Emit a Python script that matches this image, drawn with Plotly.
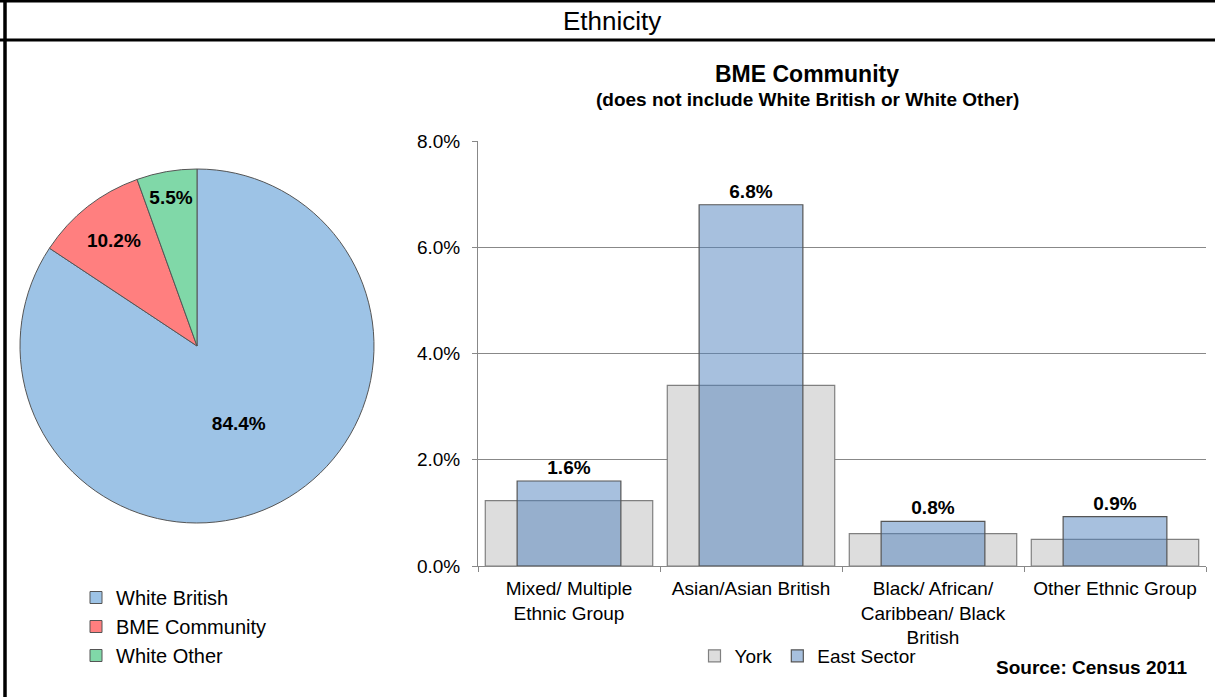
import plotly.graph_objects as go

pie_labels = ["White British", "BME Community", "White Other"]
pie_values = [84.4, 10.2, 5.5]
pie_colors = ["#9DC3E6", "#FF7F7F", "#80D8A8"]

categories = ["Mixed/ Multiple<br>Ethnic Group", "Asian/Asian British",
              "Black/ African/<br>Caribbean/ Black<br>British", "Other Ethnic Group"]
york = [1.23, 3.4, 0.61, 0.5]
east = [1.6, 6.8, 0.84, 0.93]
y_ticks = [0, 2, 4, 6, 8]
y_ticktext = [f"{v:.1f}%" for v in y_ticks]

W, H = 1215, 697
def px(x): return x / W
def py(y): return 1 - y / H

FAM = "Arial, Liberation Sans, sans-serif"
font = dict(family=FAM, size=19, color="black")

fig = go.Figure()

fig.add_trace(go.Pie(
    labels=pie_labels, values=pie_values, sort=False, direction="clockwise", rotation=0,
    marker=dict(colors=pie_colors, line=dict(color="#555555", width=1)),
    texttemplate="%{value:.1f}%", textposition="inside", insidetextorientation="horizontal",
    textfont=dict(family=FAM, size=19, color="black", weight="bold"),
    domain=dict(x=[px(20), px(374)], y=[py(523), py(169)]),
    legend="legend", hoverinfo="label+percent",
))

fig.add_trace(go.Bar(
    x=categories, y=york, name="York", width=0.92,
    marker=dict(color="#DDDDDD", line=dict(color="#808080", width=1.2)),
    xaxis="x", yaxis="y", legend="legend2",
))
fig.add_trace(go.Bar(
    x=categories, y=east, name="East Sector", width=0.57,
    marker=dict(color="rgba(79,129,189,0.5)", line=dict(color="#555555", width=1.2)),
    texttemplate="%{y:.1f}%", textposition="outside", cliponaxis=False,
    textfont=dict(family=FAM, size=19, color="black", weight="bold"),
    xaxis="x", yaxis="y", legend="legend2",
))

fig.update_layout(
    width=W, height=H, margin=dict(l=0, r=0, t=0, b=0, autoexpand=False), autosize=False,
    paper_bgcolor="white", plot_bgcolor="white",
    barmode="overlay", font=font,
    xaxis=dict(domain=[px(478), px(1206)], type="category", tickson="boundaries",
               ticks="outside", ticklen=5, tickcolor="#888888", ticklabelstandoff=5,
               showline=True, linecolor="#888888", linewidth=1,
               showgrid=False, tickfont=font, anchor="y"),
    yaxis=dict(domain=[py(566), py(141)], range=[0, 8], tickvals=y_ticks,
               ticktext=y_ticktext, ticks="outside", ticklen=5, ticklabelstandoff=8,
               tickcolor="#888888", showline=True, linecolor="#888888",
               showgrid=True, gridcolor="#888888", gridwidth=1,
               zeroline=False, tickfont=font, anchor="x"),
    legend=dict(x=px(76), y=py(578), xanchor="left", yanchor="top",
                orientation="v", font=dict(family=FAM, size=20, color="black"), itemwidth=30,
                bgcolor="rgba(0,0,0,0)"),
    legend2=dict(x=px(808), y=py(637), xanchor="center", yanchor="top",
                 orientation="h", font=font, itemwidth=30,
                 bgcolor="rgba(0,0,0,0)"),
    shapes=[
        dict(type="line", xref="paper", yref="paper", x0=0, x1=1, y0=py(1), y1=py(1),
             line=dict(color="black", width=3)),
        dict(type="line", xref="paper", yref="paper", x0=0, x1=1, y0=py(40), y1=py(40),
             line=dict(color="black", width=3)),
        dict(type="line", xref="paper", yref="paper", x0=px(5), x1=px(5), y0=0, y1=1,
             line=dict(color="black", width=3.5)),
    ],
    annotations=[
        dict(text="Ethnicity", x=px(612), y=py(21), xref="paper", yref="paper",
             xanchor="center", yanchor="middle", showarrow=False,
             font=dict(family=FAM, size=26, color="black")),
        dict(text="<b>BME Community</b>", x=px(807), y=py(74), xref="paper", yref="paper",
             xanchor="center", yanchor="middle", showarrow=False,
             font=dict(family=FAM, size=23, color="black")),
        dict(text="<b>(does not include White British or White Other)</b>", x=px(807), y=py(100),
             xref="paper", yref="paper", xanchor="center", yanchor="middle", showarrow=False,
             font=dict(family=FAM, size=19, color="black")),
        dict(text="<b>Source: Census 2011</b>", x=px(1092), y=py(667), xref="paper", yref="paper",
             xanchor="center", yanchor="middle", showarrow=False,
             font=dict(family=FAM, size=19, color="black")),
    ],
)

post = ("document.body.style.margin='0px';document.body.style.overflow='hidden';"
        "var d=document.getElementById('{plot_id}');d.style.position='fixed';"
        "d.style.left='0px';d.style.top='0px';")
fig.write_html("out.html", post_script=post, config={"displayModeBar": False})
